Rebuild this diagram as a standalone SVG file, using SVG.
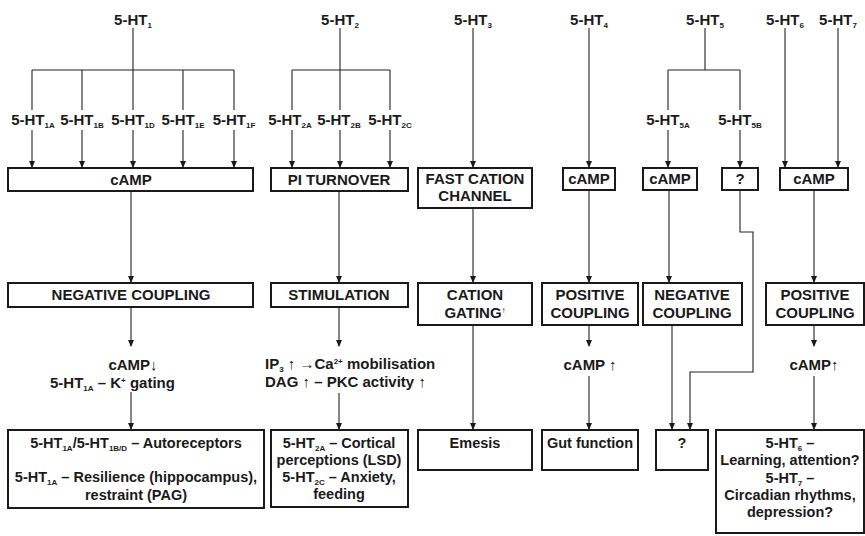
<svg xmlns="http://www.w3.org/2000/svg" width="865" height="536" viewBox="0 0 865 536">
<defs>
<style>
text{font-family:"Liberation Sans",Arial,sans-serif;font-size:15px;font-weight:bold;fill:#1a1a1a;text-anchor:middle}
.l{text-anchor:start}
.b{font-size:14.5px}
.s{font-size:8px}
.box{fill:#fff;stroke:#1a1a1a;stroke-width:2}
.ln{fill:none;stroke:#222;stroke-width:1.1}
.ar{fill:none;stroke:#222;stroke-width:1.1;marker-end:url(#ah)}
</style>
<marker id="ah" markerWidth="7" markerHeight="6" refX="6" refY="3" orient="auto" markerUnits="userSpaceOnUse">
<path d="M0,0 L7,3 L0,6 z" fill="#1a1a1a"/>
</marker>
</defs>
<rect width="865" height="536" fill="#fff"/>

<g id="connectors">
<path class="ln" d="M133 28 V70 M32 70 H234 M32 70 V110 M82 70 V110 M133 70 V110 M183 70 V110 M234 70 V110"/>
<path class="ar" d="M32 130 V167"/><path class="ar" d="M82 130 V167"/><path class="ar" d="M133 130 V167"/><path class="ar" d="M183 130 V167"/><path class="ar" d="M234 130 V167"/>
<path class="ar" d="M131 191 V282"/>
<path class="ar" d="M131 307 V346"/>
<path class="ar" d="M131 392 V429"/>
<path class="ln" d="M340 28 V70 M292 70 H390 M292 70 V110 M340 70 V110 M390 70 V110"/>
<path class="ar" d="M292 130 V167"/><path class="ar" d="M340 130 V167"/><path class="ar" d="M390 130 V167"/>
<path class="ar" d="M339 191 V282"/>
<path class="ar" d="M339 307 V346"/>
<path class="ar" d="M339 393 V429"/>
<path class="ar" d="M473 28 V167"/>
<path class="ar" d="M473 208 V282"/>
<path class="ar" d="M473 325 V429"/>
<path class="ar" d="M589 28 V167"/>
<path class="ar" d="M589 190 V282"/>
<path class="ar" d="M589 325 V346"/>
<path class="ar" d="M589 376 V429"/>
<path class="ln" d="M705 28 V70 M668 70 H740 M668 70 V110 M740 70 V110"/>
<path class="ar" d="M668 130 V167"/><path class="ar" d="M740 130 V167"/>
<path class="ar" d="M669 190 V282"/>
<path class="ar" d="M672 325 V429"/>
<path class="ar" d="M740 190 V232 H753 V372 H690 V429"/>
<path class="ar" d="M785 28 V167"/><path class="ar" d="M838 28 V167"/>
<path class="ar" d="M814 190 V282"/>
<path class="ar" d="M814 325 V346"/>
<path class="ar" d="M814 376 V429"/>
</g>

<g id="ht1"><text x="133" y="25">5-HT<tspan class="s" dy="3">1</tspan></text></g>
<g id="ht1a"><text x="33" y="125">5-HT<tspan class="s" dy="3">1A</tspan></text></g>
<g id="ht1b"><text x="82" y="125">5-HT<tspan class="s" dy="3">1B</tspan></text></g>
<g id="ht1d"><text x="133" y="125">5-HT<tspan class="s" dy="3">1D</tspan></text></g>
<g id="ht1e"><text x="183" y="125">5-HT<tspan class="s" dy="3">1E</tspan></text></g>
<g id="ht1f"><text x="234" y="125">5-HT<tspan class="s" dy="3">1F</tspan></text></g>
<g id="c1camp"><rect class="box" x="8" y="168" width="245" height="23"/><text x="131" y="185">cAMP</text></g>
<g id="c1neg"><rect class="box" x="8" y="283" width="245" height="24"/><text x="131" y="300">NEGATIVE COUPLING</text></g>
<g id="c1eff"><text x="133" y="370">cAMP↓</text><text class="l" x="50" y="388">5-HT<tspan class="s" dy="3">1A</tspan><tspan dy="-3"> – K</tspan><tspan class="s" dy="-5">+</tspan><tspan dy="5"> gating</tspan></text></g>
<g id="c1out"><rect class="box" x="8" y="430" width="256" height="78"/>
<text class="b" x="136" y="448">5-HT<tspan class="s" dy="3">1A</tspan><tspan dy="-3">/5-HT</tspan><tspan class="s" dy="3">1B/D</tspan><tspan dy="-3"> – Autoreceptors</tspan></text>
<text class="b" x="136" y="482">5-HT<tspan class="s" dy="3">1A</tspan><tspan dy="-3"> – Resilience (hippocampus),</tspan></text>
<text class="b" x="136" y="500">restraint (PAG)</text></g>

<g id="ht2"><text x="340" y="25">5-HT<tspan class="s" dy="3">2</tspan></text></g>
<g id="ht2a"><text x="290" y="125">5-HT<tspan class="s" dy="3">2A</tspan></text></g>
<g id="ht2b"><text x="339" y="125">5-HT<tspan class="s" dy="3">2B</tspan></text></g>
<g id="ht2c"><text x="390" y="125">5-HT<tspan class="s" dy="3">2C</tspan></text></g>
<g id="c2pi"><rect class="box" x="271" y="168" width="137" height="23"/><text x="339" y="185">PI TURNOVER</text></g>
<g id="c2stim"><rect class="box" x="271" y="283" width="137" height="24"/><text x="339" y="300">STIMULATION</text></g>
<g id="c2eff"><text class="l" x="265" y="369">IP<tspan class="s" dy="3">3</tspan><tspan dy="-3"> ↑ →Ca</tspan><tspan class="s" dy="-5">2+</tspan><tspan dy="5"> mobilisation</tspan></text>
<text class="l" x="265" y="387">DAG ↑ – PKC activity ↑</text></g>
<g id="c2out"><rect class="box" x="271" y="430" width="137" height="77"/>
<text class="b" x="339" y="448">5-HT<tspan class="s" dy="3">2A</tspan><tspan dy="-3"> – Cortical</tspan></text>
<text class="b" x="339" y="465">perceptions (LSD)</text>
<text class="b" x="339" y="482">5-HT<tspan class="s" dy="3">2C</tspan><tspan dy="-3"> – Anxiety,</tspan></text>
<text class="b" x="339" y="499">feeding</text></g>

<g id="ht3"><text x="473" y="25">5-HT<tspan class="s" dy="3">3</tspan></text></g>
<g id="c3fast"><rect class="box" x="418" y="168" width="114" height="40"/><text x="475" y="184">FAST CATION</text><text x="475" y="201">CHANNEL</text></g>
<g id="c3gate"><rect class="box" x="418" y="283" width="114" height="42"/><text x="475" y="300">CATION</text><text x="475" y="318">GATING<tspan class="s" dy="-5">↑</tspan></text></g>
<g id="c3out"><rect class="box" x="418" y="430" width="114" height="40"/><text class="b" x="475" y="448">Emesis</text></g>

<g id="ht4"><text x="589" y="25">5-HT<tspan class="s" dy="3">4</tspan></text></g>
<g id="c4camp"><rect class="box" x="563" y="168" width="52" height="22"/><text x="589" y="184">cAMP</text></g>
<g id="c4pos"><rect class="box" x="542" y="283" width="96" height="42"/><text x="590" y="300">POSITIVE</text><text x="590" y="318">COUPLING</text></g>
<g id="c4eff"><text x="590" y="370">cAMP ↑</text></g>
<g id="c4out"><rect class="box" x="542" y="430" width="96" height="40"/><text class="b" x="590" y="448">Gut function</text></g>

<g id="ht5"><text x="705" y="25">5-HT<tspan class="s" dy="3">5</tspan></text></g>
<g id="ht5a"><text x="668" y="125">5-HT<tspan class="s" dy="3">5A</tspan></text></g>
<g id="ht5b"><text x="740" y="125">5-HT<tspan class="s" dy="3">5B</tspan></text></g>
<g id="c5camp"><rect class="box" x="643" y="168" width="54" height="22"/><text x="670" y="184">cAMP</text></g>
<g id="c5q"><rect class="box" x="722" y="168" width="36" height="22"/><text x="740" y="184">?</text></g>
<g id="c5neg"><rect class="box" x="643" y="283" width="99" height="42"/><text x="692" y="300">NEGATIVE</text><text x="692" y="318">COUPLING</text></g>
<g id="c5out"><rect class="box" x="656" y="430" width="52" height="40"/><text class="b" x="682" y="448">?</text></g>

<g id="ht6"><text x="785" y="25">5-HT<tspan class="s" dy="3">6</tspan></text></g>
<g id="ht7"><text x="838" y="25">5-HT<tspan class="s" dy="3">7</tspan></text></g>
<g id="c6camp"><rect class="box" x="780" y="168" width="68" height="22"/><text x="814" y="184">cAMP</text></g>
<g id="c6pos"><rect class="box" x="766" y="283" width="98" height="42"/><text x="815" y="300">POSITIVE</text><text x="815" y="318">COUPLING</text></g>
<g id="c6eff"><text x="814" y="370">cAMP↑</text></g>
<g id="c6out"><rect class="box" x="716" y="430" width="148" height="103"/>
<text class="b" x="790" y="448">5-HT<tspan class="s" dy="3">6</tspan><tspan dy="-3"> –</tspan></text>
<text class="b" x="790" y="465">Learning, attention?</text>
<text class="b" x="790" y="483">5-HT<tspan class="s" dy="3">7</tspan><tspan dy="-3"> –</tspan></text>
<text class="b" x="790" y="500">Circadian rhythms,</text>
<text class="b" x="790" y="517">depression?</text></g>
</svg>
